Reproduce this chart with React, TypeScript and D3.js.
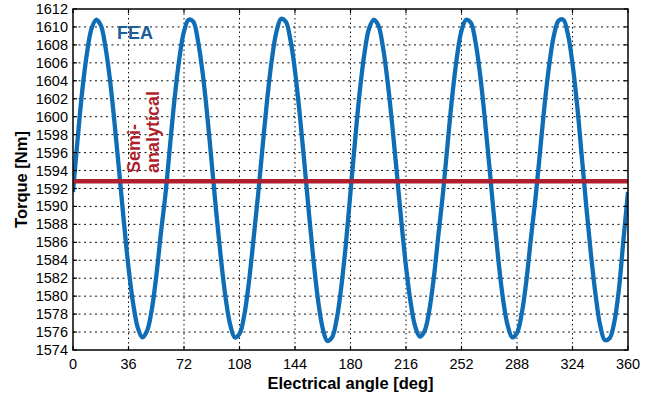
import { useEffect, useRef } from 'react'
import * as d3 from 'd3'

const W = 659
const H = 397
const MARGIN = { top: 9, right: 31, bottom: 47, left: 73 }

// FEA torque, sampled every 3 deg of electrical angle
const ANGLES = d3.range(0, 361, 3)
const TORQUE_FEA = [
  1591.6, 1597.5, 1602.9, 1607.0, 1609.8, 1610.8, 1610.2, 1607.8, 1604.1, 1599.2,
  1593.8, 1588.3, 1583.2, 1579.2, 1576.5, 1575.4, 1576.1, 1578.4, 1582.2, 1587.0,
  1591.4, 1596.9, 1602.2, 1606.5, 1609.5, 1610.8, 1610.6, 1608.5, 1605.0, 1600.3,
  1594.8, 1589.2, 1584.1, 1579.8, 1576.8, 1575.4, 1575.8, 1577.8, 1581.4, 1586.2,
  1591.2, 1596.7, 1602.0, 1606.4, 1609.5, 1610.9, 1610.6, 1608.6, 1605.1, 1600.4,
  1595.0, 1589.3, 1584.0, 1579.5, 1576.4, 1575.0, 1575.4, 1577.4, 1581.0, 1585.8,
  1591.6, 1597.4, 1602.8, 1607.0, 1609.8, 1610.8, 1610.2, 1607.8, 1604.0, 1599.2,
  1593.8, 1588.3, 1583.3, 1579.3, 1576.6, 1575.5, 1576.1, 1578.3, 1582.0, 1586.8,
  1591.5, 1597.0, 1602.3, 1606.6, 1609.6, 1610.8, 1610.5, 1608.4, 1604.8, 1600.0,
  1594.6, 1589.0, 1583.9, 1579.6, 1576.7, 1575.4, 1575.9, 1578.0, 1581.6, 1586.4,
  1590.9, 1596.2, 1601.5, 1605.9, 1609.1, 1610.7, 1610.8, 1609.2, 1605.9, 1601.3,
  1595.6, 1589.9, 1584.6, 1580.1, 1576.7, 1575.1, 1575.3, 1577.0, 1580.6, 1586.2,
  1591.6,
]
const TORQUE_SEMI = 1592.8

const X_TICKS = [0, 36, 72, 108, 144, 180, 216, 252, 288, 324, 360]
const Y_TICKS = d3.range(1574, 1613, 2)

const FONT = 'Liberation Sans, Arial, Helvetica, sans-serif'
const BLUE = '#0f6db6'
const RED = '#b01f2e'

export default function App() {
  const ref = useRef<SVGSVGElement>(null)

  useEffect(() => {
    const svg = d3.select(ref.current)
    svg.selectAll('*').remove()

    const iw = W - MARGIN.left - MARGIN.right
    const ih = H - MARGIN.top - MARGIN.bottom
    const x = d3.scaleLinear().domain([0, 360]).range([0, iw])
    const y = d3.scaleLinear().domain([1574, 1612]).range([ih, 0])

    svg.append('rect').attr('width', W).attr('height', H).attr('fill', '#fff')

    svg.append('defs').append('clipPath').attr('id', 'plot-clip')
      .append('rect').attr('width', iw).attr('height', ih)

    const g = svg.append('g').attr('transform', `translate(${MARGIN.left},${MARGIN.top})`)

    // dotted grid
    g.append('g').selectAll('line').data(X_TICKS.slice(1, -1)).join('line')
      .attr('x1', d => x(d)).attr('x2', d => x(d)).attr('y1', 0).attr('y2', ih)
      .attr('stroke', '#111').attr('stroke-width', 1).attr('stroke-dasharray', '1.5,3')
    g.append('g').selectAll('line').data(Y_TICKS.slice(1, -1)).join('line')
      .attr('x1', 0).attr('x2', iw).attr('y1', d => y(d)).attr('y2', d => y(d))
      .attr('stroke', '#111').attr('stroke-width', 1).attr('stroke-dasharray', '2,3.5')

    // FEA curve
    const line = d3.line<number>()
      .x((_, i) => x(ANGLES[i]))
      .y(d => y(d))
      .curve(d3.curveCatmullRom.alpha(0.5))
    g.append('path').datum(TORQUE_FEA).attr('d', line)
      .attr('clip-path', 'url(#plot-clip)')
      .attr('fill', 'none').attr('stroke', BLUE).attr('stroke-width', 4.3)
      .attr('stroke-linejoin', 'round')

    // semi-analytical constant
    g.append('line')
      .attr('x1', x(0)).attr('x2', x(360))
      .attr('y1', y(TORQUE_SEMI)).attr('y2', y(TORQUE_SEMI))
      .attr('stroke', RED).attr('stroke-width', 4.5)

    // inward ticks on all four sides
    const tickLen = 4
    const ticks = g.append('g').attr('stroke', '#000').attr('stroke-width', 1.2)
    X_TICKS.forEach(t => {
      ticks.append('line').attr('x1', x(t)).attr('x2', x(t)).attr('y1', ih).attr('y2', ih - tickLen)
      ticks.append('line').attr('x1', x(t)).attr('x2', x(t)).attr('y1', 0).attr('y2', tickLen)
    })
    Y_TICKS.forEach(t => {
      ticks.append('line').attr('x1', 0).attr('x2', tickLen).attr('y1', y(t)).attr('y2', y(t))
      ticks.append('line').attr('x1', iw).attr('x2', iw - tickLen).attr('y1', y(t)).attr('y2', y(t))
    })

    g.append('rect').attr('width', iw).attr('height', ih)
      .attr('fill', 'none').attr('stroke', '#000').attr('stroke-width', 1.5)

    // tick labels
    g.append('g').selectAll('text').data(X_TICKS).join('text')
      .attr('x', d => x(d)).attr('y', ih + 19)
      .attr('text-anchor', 'middle')
      .attr('font-family', FONT).attr('font-size', 14.5).attr('fill', '#000')
      .text(d => d)
    g.append('g').selectAll('text').data(Y_TICKS).join('text')
      .attr('x', -5).attr('y', d => y(d)).attr('dy', '0.35em')
      .attr('text-anchor', 'end')
      .attr('font-family', FONT).attr('font-size', 14.5).attr('fill', '#000')
      .text(d => d)

    // axis titles
    svg.append('text')
      .attr('x', MARGIN.left + iw / 2).attr('y', 389)
      .attr('text-anchor', 'middle')
      .attr('font-family', FONT).attr('font-size', 16.5).attr('font-weight', 'bold')
      .text('Electrical angle [deg]')
    svg.append('text')
      .attr('transform', `translate(27,${MARGIN.top + ih / 2}) rotate(-90)`)
      .attr('text-anchor', 'middle')
      .attr('font-family', FONT).attr('font-size', 16.5).attr('font-weight', 'bold')
      .text('Torque [Nm]')

    // annotations
    g.append('text')
      .attr('x', 117 - MARGIN.left).attr('y', 39 - MARGIN.top)
      .attr('font-family', FONT).attr('font-size', 18).attr('font-weight', 'bold')
      .attr('fill', '#1d5d9b')
      .text('FEA')
    const semi = svg.append('text')
      .attr('transform', 'translate(140,173) rotate(-90)')
      .attr('font-family', FONT).attr('font-size', 18).attr('font-weight', 'bold')
      .attr('fill', RED)
    semi.append('tspan').attr('x', 0).attr('y', 0).text('Semi-')
    semi.append('tspan').attr('x', 0).attr('y', 19).text('analytical')
  }, [])

  return (
    <svg ref={ref} width={W} height={H}
      style={{ position: 'absolute', left: 0, top: 0, display: 'block' }} />
  )
}
